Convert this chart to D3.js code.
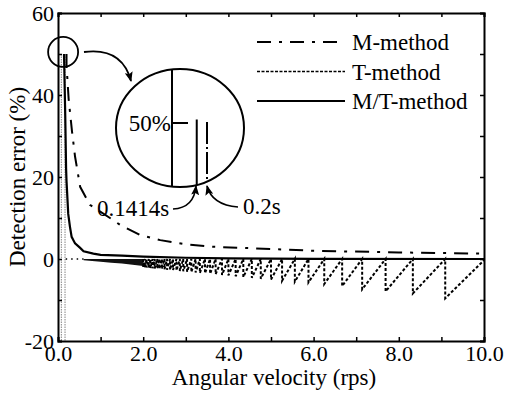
<!DOCTYPE html>
<html>
<head>
<meta charset="utf-8">
<script src="https://cdn.jsdelivr.net/npm/d3@7"></script>
<style>
  body { margin: 0; background: #fff; }
  svg { display: block; }
</style>
</head>
<body>
<div id="chart"></div>
<script>
// M-method (dash-dot)
const mX = [0.2, 0.2, 0.22, 0.25, 0.33, 0.4, 0.52, 0.75, 1.0, 1.22, 1.46, 1.92, 2.4, 3.0, 3.6, 4.6, 6.0, 8.0, 10.0];
const mY = [50, 47, 44, 39, 31, 25, 17.6, 13.2, 11.5, 10, 8.3, 5.9, 4.6, 3.6, 3.0, 2.6, 2.0, 1.6, 1.3];

// M/T-method (solid)
const mtX = [0.1414, 0.17, 0.19, 0.2, 0.24, 0.28, 0.32, 0.4, 0.52, 0.6, 0.83, 1.0, 1.5, 2.0, 3.0, 4.0, 6.0, 10.0];
const mtY = [50, 35, 22, 19, 11, 7.9, 5.4, 3.8, 2.7, 1.9, 1.3, 1.0, 0.8, 0.6, 0.3, 0.15, 0.05, 0];

// T-method: flat part, dense band, sawtooth teeth (drop position / depth)
const tFlatX = [0.18, 0.6];
const tFlatY = [0, 0];
const tBandX = [0.6, 0.8, 1.0, 1.25, 1.5, 1.75, 2.0];
const tBandLow = [-0.3, -0.5, -0.7, -0.9, -1.1, -1.4, -1.7];
const tTeethX = [9.09, 8.33, 7.69, 7.14, 6.67, 6.25, 5.88, 5.56, 5.26, 5.00, 4.76, 4.55, 4.35, 4.17, 4.00,
  3.85, 3.70, 3.57, 3.45, 3.33, 3.23, 3.13, 3.03, 2.94, 2.86, 2.78, 2.70, 2.63, 2.56, 2.50,
  2.44, 2.38, 2.33, 2.27, 2.22, 2.17, 2.13, 2.08, 2.04, 2.00];
const tTeethY = [-9.6, -8.4, -7.9, -7.4, -6.6, -6.1, -5.7, -5.5, -5.3, -5.0, -4.8, -4.6, -4.4, -4.2, -4.0,
  -3.9, -3.7, -3.6, -3.5, -3.4, -3.3, -3.2, -3.1, -3.0, -2.9, -2.8, -2.7, -2.65, -2.6, -2.5,
  -2.45, -2.4, -2.35, -2.3, -2.25, -2.2, -2.15, -2.1, -2.05, -2.0];
const tEnd = [10.0, -0.3];
const tSpikeX = [0.08, 0.165];
const tSpikeY = [50, -20];

// Zoomed inset values
const insetMT = [[0.1414, 50.4], [0.1414, 38]];
const insetM = [[0.2, 50], [0.2, 38]];

const xTicks = [0, 1, 2, 3, 4, 5, 6, 7, 8, 9, 10];
const xLabels = [0, 2, 4, 6, 8, 10];
const yTicks = [-20, -10, 0, 10, 20, 30, 40, 50, 60];
const yLabels = [-20, 0, 20, 40, 60];

const legendItems = [
  { name: 'M-method', dash: '14,8,3,8', width: 2 },
  { name: 'T-method', dash: '3,1.5', width: 1.5 },
  { name: 'M/T-method', dash: null, width: 2.2 }
];

const FONT = '"Liberation Serif", "Times New Roman", serif';

function renderChart() {
  const W = 506, H = 395;
  const margin = { top: 13, right: 22, bottom: 54, left: 58 };
  const fs = 22;   // tick labels
  const fl = 23;   // titles, legend, notes

  const svg = d3.select('#chart').append('svg')
    .attr('width', W)
    .attr('height', H)
    .attr('font-family', FONT);

  const x = d3.scaleLinear().domain([0, 10]).range([margin.left, W - margin.right]);
  const y = d3.scaleLinear().domain([-20, 60]).range([H - margin.bottom, margin.top]);

  const defs = svg.append('defs');
  defs.append('clipPath').attr('id', 'plot')
    .append('rect')
    .attr('x', x(0)).attr('y', y(60))
    .attr('width', x(10) - x(0)).attr('height', y(-20) - y(60));

  defs.append('marker')
    .attr('id', 'arrow')
    .attr('viewBox', '0 0 10 8')
    .attr('refX', 9).attr('refY', 4)
    .attr('markerWidth', 10).attr('markerHeight', 8)
    .attr('markerUnits', 'userSpaceOnUse')
    .attr('orient', 'auto')
    .append('path').attr('d', 'M0,0 L10,4 L0,8 L2,4 z').attr('fill', '#000');

  const line = d3.line().x(d => x(d[0])).y(d => y(d[1]));
  const g = svg.append('g').attr('clip-path', 'url(#plot)');

  // T-method
  g.selectAll('.spike')
    .data(tSpikeX)
    .enter().append('line')
    .attr('x1', d => x(d)).attr('x2', d => x(d))
    .attr('y1', y(tSpikeY[0])).attr('y2', y(tSpikeY[1]))
    .attr('stroke', '#999').attr('stroke-width', 1.2).attr('stroke-dasharray', '1.5,1');

  g.append('path')
    .datum(tFlatX.map((v, i) => [v, tFlatY[i]]))
    .attr('fill', 'none').attr('stroke', '#000').attr('stroke-width', 1.5)
    .attr('stroke-dasharray', '1.5,4')
    .attr('d', line);

  const band = d3.area()
    .x(d => x(d[0])).y0(y(0)).y1(d => y(d[1]));
  g.append('path')
    .datum(tBandX.map((v, i) => [v, tBandLow[i]]))
    .attr('fill', '#111')
    .attr('d', band);

  const teeth = tTeethX.map((v, i) => [v, tTeethY[i]]).sort((a, b) => a[0] - b[0]);
  const saw = [];
  teeth.forEach(t => { saw.push([t[0], 0]); saw.push([t[0], t[1]]); });
  saw.push(tEnd);
  g.append('path')
    .datum(saw)
    .attr('fill', 'none').attr('stroke', '#000').attr('stroke-width', 2)
    .attr('stroke-dasharray', '3,2')
    .attr('d', line);

  // M-method
  g.append('path')
    .datum(mX.map((v, i) => [v, mY[i]]))
    .attr('fill', 'none').attr('stroke', '#000').attr('stroke-width', 2)
    .attr('stroke-dasharray', '14,8,3,8')
    .attr('d', line);

  // M/T-method
  g.append('path')
    .datum(mtX.map((v, i) => [v, mtY[i]]))
    .attr('fill', 'none').attr('stroke', '#000').attr('stroke-width', 2.2)
    .attr('d', line);

  // Axes (ticks inward on all four sides)
  const fmt = d => xLabels.includes(d) ? d3.format('.1f')(d) : '';
  const yfmt = d => yLabels.includes(d) ? d : '';
  const axes = [
    svg.append('g').attr('transform', `translate(0,${y(-20)})`)
      .call(d3.axisBottom(x).tickValues(xTicks).tickSize(-4).tickPadding(4).tickFormat(fmt)),
    svg.append('g').attr('transform', `translate(0,${y(60)})`)
      .call(d3.axisTop(x).tickValues(xTicks).tickSize(-4).tickFormat('')),
    svg.append('g').attr('transform', `translate(${x(0)},0)`)
      .call(d3.axisLeft(y).tickValues(yTicks).tickSize(-4).tickPadding(4).tickFormat(yfmt)),
    svg.append('g').attr('transform', `translate(${x(10)},0)`)
      .call(d3.axisRight(y).tickValues(yTicks).tickSize(-4).tickFormat(''))
  ];
  axes.forEach(a => {
    a.attr('font-family', FONT).attr('font-size', fs);
    a.select('.domain').attr('stroke', '#000').attr('stroke-width', 2);
    a.selectAll('.tick line').attr('stroke', '#000').attr('stroke-width', 1.5);
    a.selectAll('text').attr('fill', '#000');
  });

  // Axis titles
  svg.append('text')
    .attr('x', (x(0) + x(10)) / 2 + 3).attr('y', 385)
    .attr('text-anchor', 'middle').attr('font-size', fl)
    .text('Angular velocity (rps)');
  svg.append('text')
    .attr('transform', `translate(25,${(y(60) + y(-20)) / 2}) rotate(-90)`)
    .attr('text-anchor', 'middle').attr('font-size', fl)
    .text('Detection error (%)');

  // Legend
  const lg = svg.append('g');
  legendItems.forEach((d, i) => {
    const ly = 42 + i * 29.5;
    lg.append('line')
      .attr('x1', 257).attr('x2', 345).attr('y1', ly).attr('y2', ly)
      .attr('stroke', '#000').attr('stroke-width', d.width)
      .attr('stroke-dasharray', d.dash);
    lg.append('text')
      .attr('x', 352).attr('y', ly).attr('dy', '0.35em')
      .attr('font-size', fl).text(d.name);
  });

  // Small circle at the peak and arrow to the inset
  svg.append('circle')
    .attr('cx', x(0.12)).attr('cy', y(50.5)).attr('r', 15)
    .attr('fill', 'none').attr('stroke', '#000').attr('stroke-width', 1.8);
  svg.append('path')
    .attr('d', 'M84,52 Q122,47 131,81')
    .attr('fill', 'none').attr('stroke', '#000').attr('stroke-width', 1.8)
    .attr('marker-end', 'url(#arrow)');

  // Inset
  const cx = 180, cy = 128, rx = 64, ry = 59;
  defs.append('clipPath').attr('id', 'inset')
    .append('ellipse').attr('cx', cx).attr('cy', cy).attr('rx', rx).attr('ry', ry);
  svg.append('ellipse')
    .attr('cx', cx).attr('cy', cy).attr('rx', rx).attr('ry', ry)
    .attr('fill', '#fff').attr('stroke', '#000').attr('stroke-width', 2);

  const ix = d3.scaleLinear().domain([0, 0.2]).range([172, 207]);
  const iy = d3.scaleLinear().domain([40, 50]).range([183, 122]);
  const iline = d3.line().x(d => ix(d[0])).y(d => iy(d[1]));
  const ig = svg.append('g').attr('clip-path', 'url(#inset)');
  ig.append('line')
    .attr('x1', ix(0)).attr('x2', ix(0)).attr('y1', cy - ry).attr('y2', cy + ry)
    .attr('stroke', '#000').attr('stroke-width', 2);
  ig.append('line')
    .attr('x1', ix(0)).attr('x2', ix(0) + 16).attr('y1', iy(50) + 1).attr('y2', iy(50) + 1)
    .attr('stroke', '#000').attr('stroke-width', 2);
  ig.append('path').datum(insetMT)
    .attr('fill', 'none').attr('stroke', '#000').attr('stroke-width', 2)
    .attr('d', iline);
  ig.append('path').datum(insetM)
    .attr('fill', 'none').attr('stroke', '#000').attr('stroke-width', 2)
    .attr('stroke-dasharray', '22,3,2,3')
    .attr('d', iline);
  svg.append('text')
    .attr('x', ix(0) - 1).attr('y', iy(50) + 1).attr('dy', '0.35em')
    .attr('text-anchor', 'end').attr('font-size', fl).text('50%');

  // Annotations for the two start speeds
  svg.append('text').attr('x', 97).attr('y', 216).attr('font-size', fl).text('0.1414s');
  svg.append('text').attr('x', 243).attr('y', 214).attr('font-size', fl).text('0.2s');
  svg.append('path')
    .attr('d', 'M173,209 Q194,208 196,186')
    .attr('fill', 'none').attr('stroke', '#000').attr('stroke-width', 1.6)
    .attr('marker-end', 'url(#arrow)');
  svg.append('path')
    .attr('d', 'M238,207 Q212,205 207,186')
    .attr('fill', 'none').attr('stroke', '#000').attr('stroke-width', 1.6)
    .attr('marker-end', 'url(#arrow)');
}

renderChart();
</script>
</body>
</html>
